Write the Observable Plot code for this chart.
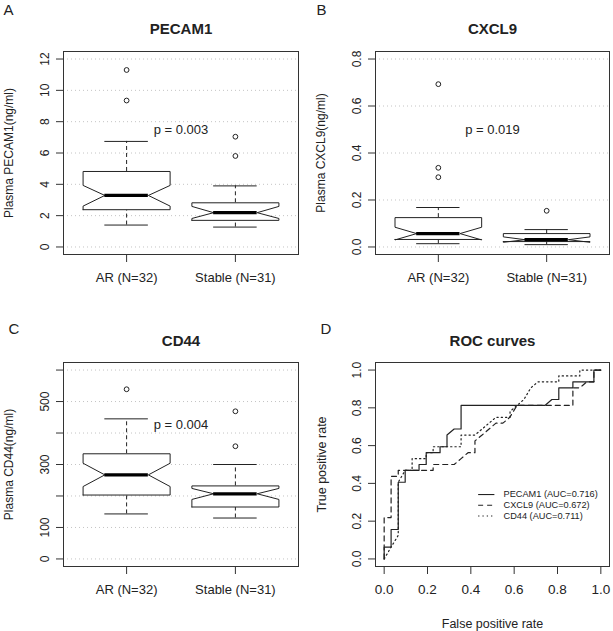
<!DOCTYPE html>
<html><head><meta charset="utf-8">
<script src="https://cdn.jsdelivr.net/npm/d3@7"></script>
<script src="https://cdn.jsdelivr.net/npm/@observablehq/plot@0.6"></script>
<style>
html,body{margin:0;padding:0;background:#fff;}
#fig{position:relative;width:613px;height:631px;background:#fff;overflow:hidden;}
#fig svg{position:absolute;}
</style></head><body><div id="fig"></div>
<script>
// ---------- data ----------
const groups = ["AR (N=32)", "Stable (N=31)"];
const groupPos = [1, 2];

// PECAM1 (ng/ml)
const pecamWhiskerLow = [1.40, 1.27];
const pecamQ1 = [2.38, 1.70];
const pecamNotchLow = [2.61, 1.82];
const pecamMedian = [3.29, 2.19];
const pecamNotchHigh = [3.93, 2.59];
const pecamQ3 = [4.82, 2.82];
const pecamWhiskerHigh = [6.74, 3.90];
const pecamOutliers = [[11.3, 9.35], [7.04, 5.81]];
const pecamTicks = [0, 2, 4, 6, 8, 10, 12];

// CXCL9 (ng/ml)
const cxclWhiskerLow = [0.014, 0.010];
const cxclQ1 = [0.032, 0.023];
const cxclNotchLow = [0.030, 0.020];
const cxclMedian = [0.057, 0.031];
const cxclNotchHigh = [0.084, 0.043];
const cxclQ3 = [0.125, 0.057];
const cxclWhiskerHigh = [0.168, 0.074];
const cxclOutliers = [[0.693, 0.337, 0.297], [0.154]];
const cxclTicks = [0, 0.2, 0.4, 0.6, 0.8];

// CD44 (ng/ml)
const cd44WhiskerLow = [143, 130];
const cd44Q1 = [203, 165];
const cd44NotchLow = [230, 189];
const cd44Median = [267, 207];
const cd44NotchHigh = [304, 224];
const cd44Q3 = [334, 232];
const cd44WhiskerHigh = [445, 300];
const cd44Outliers = [[539], [469, 358]];
const cd44Ticks = [0, 100, 200, 300, 400, 500, 600];
const cd44TickLabels = [0, 100, 300, 500];

// p values (text, y position in data units)
const pLabels = ["p = 0.003", "p = 0.019", "p = 0.004"];
const pLabelY = [7.5, 0.5, 425];

// ROC curves
const rocPecamFpr = [0,0,0.032,0.032,0.065,0.065,0.097,0.097,0.161,0.161,0.194,0.194,0.258,0.258,0.290,0.290,0.323,0.355,0.355,0.742,0.774,0.806,0.806,0.871,0.871,0.968,0.968,1.0];
const rocPecamTpr = [0,0.0625,0.0625,0.156,0.156,0.406,0.406,0.469,0.469,0.5,0.5,0.5625,0.5625,0.594,0.594,0.656,0.688,0.688,0.8125,0.8125,0.844,0.844,0.906,0.906,0.9375,0.9375,1.0,1.0];
const rocCxclFpr = [0,0,0.032,0.032,0.065,0.065,0.226,0.226,0.323,0.355,0.387,0.419,0.419,0.452,0.516,0.548,0.58,0.613,0.871,0.871,0.903,0.935,0.968,0.968,1.0];
const rocCxclTpr = [0,0.219,0.219,0.4375,0.4375,0.469,0.469,0.5,0.5,0.531,0.5625,0.5625,0.625,0.656,0.719,0.719,0.75,0.8125,0.8125,0.906,0.906,0.9375,0.9375,1.0,1.0];
const rocCd44Fpr = [0,0.032,0.065,0.065,0.097,0.129,0.129,0.194,0.194,0.226,0.226,0.355,0.355,0.419,0.452,0.484,0.516,0.581,0.581,0.645,0.677,0.71,0.806,0.806,0.903,0.903,1.0];
const rocCd44Tpr = [0,0.0625,0.125,0.406,0.469,0.469,0.531,0.531,0.5625,0.5625,0.594,0.594,0.656,0.656,0.688,0.719,0.75,0.75,0.781,0.844,0.906,0.9375,0.9375,0.969,0.969,1.0,1.0];
const rocTicks = [0, 0.2, 0.4, 0.6, 0.8, 1.0];
const legendLabels = ["PECAM1 (AUC=0.716)", "CXCL9 (AUC=0.672)", "CD44 (AUC=0.711)"];

// ---------- rendering ----------
const FONT = "'Liberation Sans', Arial, Helvetica, sans-serif";
const INK = "#222";
const fig = document.getElementById("fig");

function place(svg, left, top) {
  svg.style.left = left + "px";
  svg.style.top = top + "px";
  fig.appendChild(svg);
}

function boxPanel(o) {
  const w = 0.4, w2 = 0.2;
  const boxes = groupPos.map((x, i) => ({
    x, lo: o.lo[i], q1: o.q1[i], nlo: o.nlo[i], med: o.med[i], nhi: o.nhi[i], q3: o.q3[i], hi: o.hi[i]
  }));
  const poly = boxes.flatMap((b, g) => [
    [b.x - w, b.q1], [b.x - w, b.nlo], [b.x - w2, b.med], [b.x - w, b.nhi], [b.x - w, b.q3],
    [b.x + w, b.q3], [b.x + w, b.nhi], [b.x + w2, b.med], [b.x + w, b.nlo], [b.x + w, b.q1], [b.x - w, b.q1]
  ].map(([px, py]) => ({g, px, py})));
  const outs = o.out.flatMap((arr, i) => arr.map(v => ({x: groupPos[i], y: v})));
  const svg = Plot.plot({
    width: o.width, height: o.height,
    marginLeft: o.mL, marginRight: o.mR, marginTop: o.mT, marginBottom: o.mB,
    x: {domain: [0.42, 2.58], axis: null},
    y: {domain: o.yDomain, axis: null},
    style: {fontFamily: FONT, background: "transparent", color: INK, overflow: "visible"},
    marks: [
      Plot.ruleY(o.ticks, {stroke: "#c4c4c4", strokeDasharray: "1,3"}),
      Plot.ruleX(boxes, {x: "x", y1: "q3", y2: "hi", stroke: INK, strokeDasharray: "4,3"}),
      Plot.ruleX(boxes, {x: "x", y1: "lo", y2: "q1", stroke: INK, strokeDasharray: "4,3"}),
      Plot.ruleY(boxes, {y: "hi", x1: d => d.x - w2, x2: d => d.x + w2, stroke: INK}),
      Plot.ruleY(boxes, {y: "lo", x1: d => d.x - w2, x2: d => d.x + w2, stroke: INK}),
      Plot.line(poly, {x: "px", y: "py", z: "g", stroke: INK, fill: "white", strokeWidth: 1}),
      Plot.ruleY(boxes, {y: "med", x1: d => d.x - w2, x2: d => d.x + w2, stroke: "#000", strokeWidth: 3.2}),
      Plot.dot(outs, {x: "x", y: "y", r: 2.4, stroke: INK, fill: "none", strokeWidth: 1}),
      Plot.frame({stroke: "#333"}),
      Plot.axisY(o.ticks, {anchor: "left", tickSize: 7, tickRotate: -90, tickPadding: 8, fontSize: 12,
        tickFormat: o.tickFormat, stroke: "#333", label: null}),
      Plot.axisX(groupPos, {anchor: "bottom", tickSize: 8, tickPadding: 10, fontSize: 13,
        tickFormat: d => groups[d - 1], stroke: "#333", label: null}),
      Plot.text([o.p], {x: 1.5, y: o.pY, text: d => d, fontSize: 13}),
      Plot.text([o.title], {text: d => d, frameAnchor: "top", dy: o.titleDy, lineAnchor: "bottom", fontWeight: "bold", fontSize: 15}),
      Plot.text([o.letter], {text: d => d, frameAnchor: "top-left", textAnchor: "start", lineAnchor: "bottom", dx: o.letterDx, dy: o.letterDy, fontSize: 15}),
      Plot.text([o.ylab], {text: d => d, frameAnchor: "left", textAnchor: "middle", rotate: -90, dx: -54, fontSize: 12})
    ]
  });
  place(svg, o.left, o.top);
}

boxPanel({
  left: 0, top: 0, width: 306, height: 310, mL: 63, mR: 8, mT: 51, mB: 56,
  yDomain: [-0.48, 12.48], ticks: pecamTicks, tickFormat: d => String(d),
  lo: pecamWhiskerLow, q1: pecamQ1, nlo: pecamNotchLow, med: pecamMedian, nhi: pecamNotchHigh, q3: pecamQ3, hi: pecamWhiskerHigh,
  out: pecamOutliers, p: pLabels[0], pY: pLabelY[0],
  title: "PECAM1", titleDy: -18, letter: "A", letterDx: -60, letterDy: -37, ylab: "Plasma PECAM1(ng/ml)"
});

boxPanel({
  left: 306, top: 0, width: 307, height: 310, mL: 69, mR: 4, mT: 51, mB: 56,
  yDomain: [-0.032, 0.832], ticks: cxclTicks, tickFormat: d3.format(".1f"),
  lo: cxclWhiskerLow, q1: cxclQ1, nlo: cxclNotchLow, med: cxclMedian, nhi: cxclNotchHigh, q3: cxclQ3, hi: cxclWhiskerHigh,
  out: cxclOutliers, p: pLabels[1], pY: pLabelY[1],
  title: "CXCL9", titleDy: -18, letter: "B", letterDx: -59, letterDy: -37, ylab: "Plasma CXCL9(ng/ml)"
});

boxPanel({
  left: 0, top: 310, width: 306, height: 321, mL: 63, mR: 8, mT: 52, mB: 65,
  yDomain: [-24, 624], ticks: cd44Ticks, tickFormat: d => cd44TickLabels.includes(d) ? String(d) : "",
  lo: cd44WhiskerLow, q1: cd44Q1, nlo: cd44NotchLow, med: cd44Median, nhi: cd44NotchHigh, q3: cd44Q3, hi: cd44WhiskerHigh,
  out: cd44Outliers, p: pLabels[2], pY: pLabelY[2],
  title: "CD44", titleDy: -17, letter: "C", letterDx: -55, letterDy: -29, ylab: "Plasma CD44(ng/ml)"
});

// ROC panel
(function () {
  const curves = [
    {fpr: rocPecamFpr, tpr: rocPecamTpr, dash: null},
    {fpr: rocCxclFpr, tpr: rocCxclTpr, dash: "5,4"},
    {fpr: rocCd44Fpr, tpr: rocCd44Tpr, dash: "1.3,3"}
  ];
  const lineMarks = curves.map(c => Plot.line(c.fpr.map((x, i) => ({x, y: c.tpr[i]})),
    {x: "x", y: "y", stroke: INK, strokeWidth: 1.2, strokeDasharray: c.dash || undefined}));
  const legend = legendLabels.map((t, i) => ({t, i, y: 0.341 - i * 0.057}));
  const legendMarks = curves.map((c, i) => Plot.ruleY([legend[i]],
    {y: "y", x1: 0.436, x2: 0.511, stroke: INK, strokeWidth: 1.1, strokeDasharray: c.dash || undefined}));
  const svg = Plot.plot({
    width: 307, height: 321, marginLeft: 69, marginRight: 4, marginTop: 52, marginBottom: 65,
    x: {domain: [-0.04, 1.04], axis: null},
    y: {domain: [-0.04, 1.04], axis: null},
    style: {fontFamily: FONT, background: "transparent", color: INK, overflow: "visible"},
    marks: [
      ...lineMarks,
      ...legendMarks,
      Plot.text(legend, {x: 0.551, y: "y", text: "t", textAnchor: "start", fontSize: 9.2}),
      Plot.frame({stroke: "#333"}),
      Plot.axisY(rocTicks, {anchor: "left", tickSize: 7, tickRotate: -90, tickPadding: 8, fontSize: 12,
        tickFormat: d3.format(".1f"), stroke: "#333", label: null}),
      Plot.axisX(rocTicks, {anchor: "bottom", tickSize: 8, tickPadding: 10, fontSize: 13.5,
        tickFormat: d3.format(".1f"), stroke: "#333", label: null}),
      Plot.text(["ROC curves"], {text: d => d, frameAnchor: "top", dy: -17, lineAnchor: "bottom", fontWeight: "bold", fontSize: 15}),
      Plot.text(["D"], {text: d => d, frameAnchor: "top-left", textAnchor: "start", lineAnchor: "bottom", dx: -55, dy: -29, fontSize: 15}),
      Plot.text(["True positive rate"], {text: d => d, frameAnchor: "left", textAnchor: "middle", rotate: -90, dx: -54, fontSize: 12.5}),
      Plot.text(["False positive rate"], {text: d => d, frameAnchor: "bottom", dy: 61.5, lineAnchor: "bottom", fontSize: 12.5})
    ]
  });
  place(svg, 306, 310);
})();
</script>
</body></html>
